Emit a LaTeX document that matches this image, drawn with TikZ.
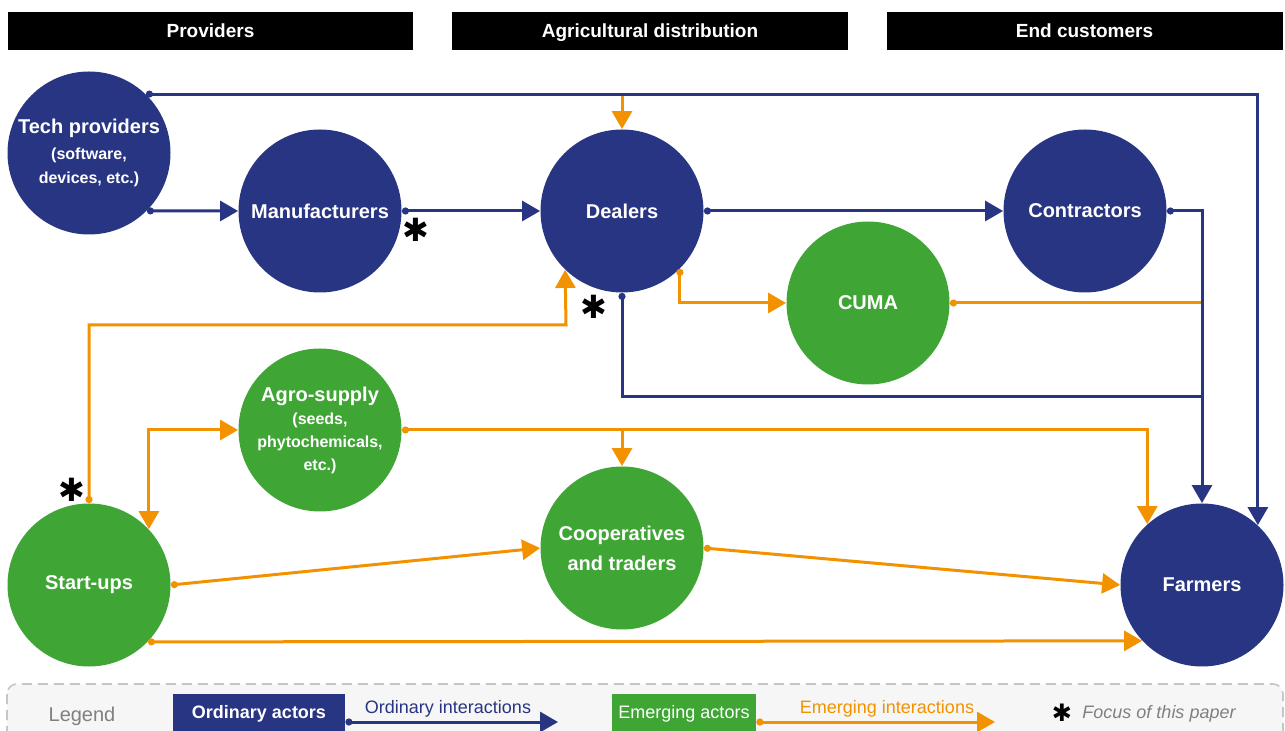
\documentclass[tikz,border=0pt]{standalone}
\usepackage{fontspec}
\setmainfont{Liberation Sans}
\newfontfamily\symfont{DejaVu Sans}
\usepackage{xcolor}
\usetikzlibrary{arrows.meta}

\definecolor{actorblue}{HTML}{283583}
\definecolor{actorgreen}{HTML}{3FA535}
\definecolor{linkorange}{HTML}{F39200}
\newcommand\subline{\fontsize{8}{12}\selectfont}
\newcommand\focus{{\symfont\bfseries ✱}}

\begin{document}
\begin{tikzpicture}[x=0.5pt,y=-0.5pt,
  actor/.style={circle,minimum size=81.5pt,inner sep=0pt,text=white,align=center,
    font=\bfseries\fontsize{10}{15}\selectfont},
  ordinary/.style={actor,fill=actorblue},
  emerging/.style={actor,fill=actorgreen},
  header/.style={fill=black,text=white,minimum width=198pt,minimum height=19pt,
    inner sep=0pt,text height=1.5ex,text depth=.3ex,font=\bfseries\fontsize{9.5}{11}\selectfont},
  blink/.style={draw=actorblue,line width=1.5pt},
  olink/.style={draw=linkorange,line width=1.5pt},
  dottip/.style={arrows={Circle[length=3.5pt]-Triangle[length=9pt,width=10pt]}},
  dotstart/.style={arrows={Circle[length=3.5pt]-}},
  tiphead/.style={arrows={-Triangle[length=9pt,width=10pt]}},
  bothtip/.style={arrows={Triangle[length=9pt,width=10pt]-Triangle[length=9pt,width=10pt]}},
  focusmark/.style={inner sep=0pt,font=\fontsize{16}{16}\selectfont},
  legendbox/.style={inner sep=0pt,minimum height=20pt,text=white}]
\clip (0,0) rectangle (1285,731);

% column headers
\node[header,minimum width=202.5pt] (hprov) at (210.5,31) {Providers};
\node[header] (hdist) at (650,31) {Agricultural distribution};
\node[header] (hcust) at (1084.5,31) {End customers};

% actors
\node[ordinary] (tech) at (89,153) {Tech providers\\[-2pt]\subline (software,\\[-3pt]\subline devices, etc.)};
\node[ordinary] (manu) at (320,211) {Manufacturers};
\node[ordinary] (deal) at (622,211) {Dealers};
\node[ordinary] (contr) at (1085,211) {Contractors};
\node[emerging] (cuma) at (868,303) {CUMA};
\node[emerging] (agro) at (320,430) {Agro-supply\\[-3.5pt]\subline (seeds,\\[-3.5pt]\subline phytochemicals,\\[-3.5pt]\subline etc.)};
\node[emerging] (coop) at (622,548) {Cooperatives\\and traders};
\node[emerging] (start) at (89,585) {Start-ups};
\node[ordinary] (farm) at (1202,585) {Farmers};

\coordinate (bend) at (566,325);
\coordinate (dmerge) at (1202,397);

% emerging interactions
\draw[olink,tiphead] (deal.north |- tech.46) -- (deal.north);
\draw[olink,dottip] (start.north) |- (bend) -- (deal.226.5);
\draw[olink,dottip] (deal.-45) |- (cuma.west);
\draw[olink,dotstart] (cuma.east) -- (cuma.east -| farm.north);
\draw[olink,dottip] (agro.east) -| (farm.132.5);
\draw[olink,tiphead] (coop.north |- agro.east) -- (coop.north);
\draw[olink,bothtip] (start.43.5) |- (agro.west);
\draw[olink,dottip] (start.east) -- (coop.west);
\draw[olink,dottip] (coop.east) -- (farm.west);
\draw[olink,dottip] (start.-44) -- (farm.223.5);

% ordinary interactions
\draw[blink,dottip] (tech.46) -| (farm.47.5);
\draw[blink,dottip] (tech.-45) -- (manu.west);
\draw[blink,dottip] (manu.east) -- (deal.west);
\draw[blink,dottip] (deal.east) -- (contr.west);
\draw[blink,dottip] (contr.east) -| (farm.north);
\draw[blink,dotstart] (deal.south) |- (dmerge);

% focus marks
\node[focusmark] (f1) at (416,230) {\focus};
\node[focusmark] (f2) at (594,307) {\focus};
\node[focusmark] (f3) at (72,490) {\focus};

% legend
\draw[draw=gray!45,fill=gray!7,line width=0.8pt,dash pattern=on 5pt off 3pt,rounded corners=5pt]
  (7,684) rectangle (1283,760);
\node[text=gray,font=\fontsize{10}{12}\selectfont] (leg) at (82,716) {Legend};
\node[legendbox,fill=actorblue,minimum width=86pt,font=\bfseries\fontsize{9}{11}\selectfont] (lord) at (259,714) {Ordinary actors};
\coordinate (lordend) at (558,722);
\draw[blink,dottip] (lord.east |- lordend) -- (lordend);
\node[text=actorblue,font=\fontsize{9}{11}\selectfont] (lordtxt) at (448,709) {Ordinary interactions};
\node[legendbox,fill=actorgreen,minimum width=72pt,font=\fontsize{9}{11}\selectfont] (lemer) at (684,714) {Emerging actors};
\coordinate (lemerend) at (995,722);
\draw[olink,dottip] (lemer.east |- lemerend) -- (lemerend);
\node[text=linkorange,font=\fontsize{9}{11}\selectfont] (lemertxt) at (887,709) {Emerging interactions};
\node[focusmark,font=\fontsize{12}{12}\selectfont] (lfocus) at (1062,713) {\focus};
\node[text=gray,font=\itshape\fontsize{9}{11}\selectfont] (lfocustxt) at (1159,714) {Focus of this paper};
\end{tikzpicture}
\end{document}
